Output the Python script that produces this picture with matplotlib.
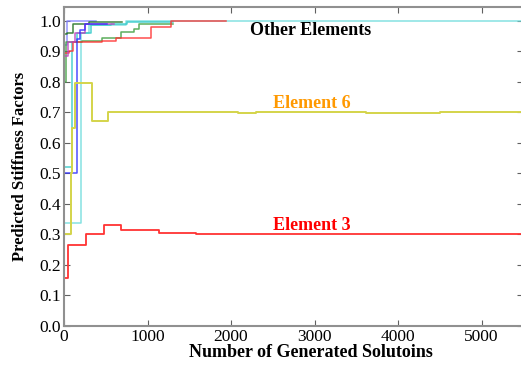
import matplotlib
matplotlib.use("Agg")
import matplotlib.pyplot as plt

# ---- data (step functions: x breakpoints, y values) ----
e3_x = [0, 50, 260, 480, 680, 1140, 1580, 5500]
e3_y = [0.158, 0.266, 0.30, 0.33, 0.316, 0.305, 0.30, 0.30]

e6_x = [0, 80, 100, 130, 330, 530, 2080, 2300, 3620, 4500, 5500]
e6_y = [0.30, 0.50, 0.65, 0.797, 0.67, 0.70, 0.697, 0.70, 0.697, 0.70, 0.70]

blue_x = [0, 150, 190, 250, 520]
blue_y = [0.50, 0.94, 0.97, 0.99, 0.99]
peri_x = [0, 30, 380]
peri_y = [0.92, 1.0, 1.0]
cyan1_x = [0, 100, 160, 320, 560, 760, 1300]
cyan1_y = [0.52, 0.93, 0.96, 0.985, 0.99, 0.995, 0.995]
cyan2_x = [0, 200, 300, 740, 5500]
cyan2_y = [0.338, 0.96, 0.985, 1.0, 1.0]
green_x = [0, 25, 220, 460, 680, 840, 900, 1300]
green_y = [0.80, 0.93, 0.935, 0.943, 0.963, 0.974, 0.99, 0.99]
dgreen_x = [0, 40, 110, 300, 700]
dgreen_y = [0.955, 0.96, 0.99, 0.995, 0.995]
red_x = [0, 60, 110, 460, 620, 1045, 1280, 1940]
red_y = [0.895, 0.90, 0.93, 0.935, 0.943, 0.979, 0.998, 0.998]
mag_x = [0, 50, 130, 250, 600]
mag_y = [0.885, 0.93, 0.96, 0.99, 0.99]

x_ticks = [0, 1000, 2000, 3000, 4000, 5000]
y_ticks = [0.0, 0.1, 0.2, 0.3, 0.4, 0.5, 0.6, 0.7, 0.8, 0.9, 1.0]

serif = ["Liberation Serif", "DejaVu Serif"]

fig = plt.figure(figsize=(5.21, 3.65), dpi=100)
ax = fig.add_axes([64/521, 1-326/365, (523.3-64)/521, (326-7)/365])

others = [
    (peri_x, peri_y, "#8080ff"),
    (cyan2_x, cyan2_y, "#70dcdc"),
    (cyan1_x, cyan1_y, "#30c8c8"),
    (green_x, green_y, "#40a040"),
    (dgreen_x, dgreen_y, "#207020"),
    (red_x, red_y, "#ff3030"),
    (mag_x, mag_y, "#c040c0"),
    (blue_x, blue_y, "#3030ff"),
]
for xs, ys, c in others:
    ax.plot(xs, ys, drawstyle="steps-post", color=c, lw=1.1, alpha=0.85)

ax.plot(e6_x, e6_y, drawstyle="steps-post", color="#d4d44a", lw=1.4)
ax.plot(e3_x, e3_y, drawstyle="steps-post", color="#ff3333", lw=1.3)

ax.set_xlim(0, 5500)
ax.set_ylim(0, 1.045)
ax.set_xticks(x_ticks)
ax.set_yticks(y_ticks)
ax.set_xticklabels([str(v) for v in x_ticks], family=serif, fontsize=12.5)
ax.set_yticklabels([f"{v:.1f}" for v in y_ticks], family=serif, fontsize=12.5)
ax.tick_params(direction="in", length=4, color="#606060", top=True, right=True,
               pad=2)
for s in ax.spines.values():
    s.set_color("#909090")
    s.set_linewidth(1.5)

ax.set_xlabel("Number of Generated Solutoins", family=serif, fontweight="bold",
              fontsize=13, labelpad=0)
ax.xaxis.set_label_coords((311-64)/459.3, -0.055, transform=ax.transAxes)
ax.xaxis.label.set_va("top")
ax.set_ylabel("Predicted Stiffness Factors", family=serif, fontweight="bold",
              fontsize=12, labelpad=8)

ax.text(2230, 0.967, "Other Elements", family=serif, fontweight="bold",
        fontsize=13, color="black", va="center", ha="left")
ax.text(2500, 0.728, "Element 6", family=serif, fontweight="bold",
        fontsize=13, color="#ff9900", va="center", ha="left")
ax.text(2500, 0.328, "Element 3", family=serif, fontweight="bold",
        fontsize=13, color="#ff0000", va="center", ha="left")

fig.savefig("out.png", dpi=100)
